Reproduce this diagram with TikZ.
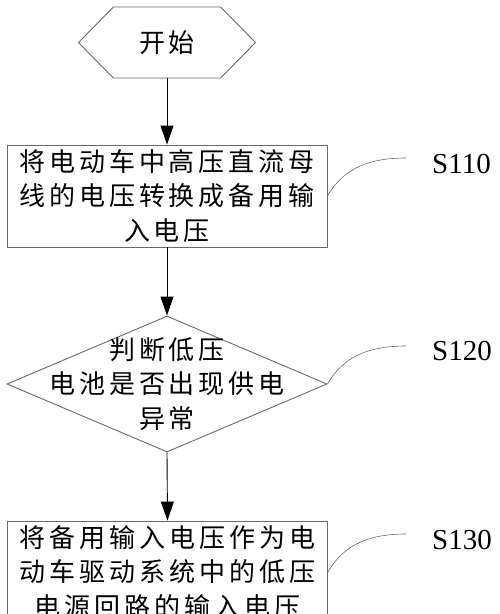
\documentclass[tikz,border=0pt]{standalone}
\usepackage{fontspec}
\newfontfamily\cjk{Noto Sans CJK SC}[LetterSpace=15]
\newfontfamily\lab{Liberation Serif}
\usepackage{tikz}
\usetikzlibrary{arrows.meta,shapes.geometric,shapes.symbols}
\definecolor{boxgray}{RGB}{105,105,105}

\tikzset{
  stepbox/.style={draw=boxgray,line width=0.9pt,rectangle,minimum width=320pt,
    minimum height=102pt,inner sep=0pt,align=center,
    font=\cjk\fontsize{26}{34.5}\selectfont},
  flow/.style={line width=0.9pt,-{Triangle[width=13pt,length=19pt]}},
  leader/.style={boxgray,line width=0.6pt},
  steplabel/.style={anchor=west,inner sep=0pt,font=\lab\fontsize{29}{29}\selectfont}
}

\begin{document}
\begin{tikzpicture}[x=1pt,y=-1pt]
   \useasboundingbox (0,0) rectangle (500,614);
   \clip (0,0) rectangle (500,614);
   % Start
   \node[draw=boxgray,line width=0.9pt,signal,signal to=east and west,signal pointer angle=91,
     minimum width=177pt,minimum height=71pt,inner sep=0pt,
     font=\cjk\fontsize{26}{34.5}\selectfont] (start) at (167,42.5) {开始};
   % Steps
   \node[stepbox] (convert) at (167,196) {将电动车中高压直流母\\线的电压转换成备用输\\入电压};
   \node[stepbox,diamond,shape aspect=2.35,minimum width=320pt,minimum height=136pt,
     inner sep=-30pt] (judge) at (167,384) {判断低压\\电池是否出现供电\\异常};
   \node[stepbox] (supply) at (167.5,572) {将备用输入电压作为电\\动车驱动系统中的低压\\电源回路的输入电压};
   % Arrows
   \draw[flow] (start.south) -- (convert.north);
   \draw[flow] (convert.south) -- (judge.north);
   \draw[flow] (judge.south) -- (supply.north);
   % Labels
   \node[steplabel] (s110) at (432,164) {S110};
   \node[steplabel] (s120) at (432,351) {S120};
   \node[steplabel] (s130) at (432,540) {S130};
   \coordinate (t110) at (406,158);
   \coordinate (t120) at (406,346);
   \coordinate (t130) at (406,534);
   \draw[leader] (convert.east) to[out=60,in=180] (t110);
   \draw[leader] (judge.east) to[out=60,in=180] (t120);
   \draw[leader] (supply.east) to[out=60,in=180] (t130);
\end{tikzpicture}
\end{document}
